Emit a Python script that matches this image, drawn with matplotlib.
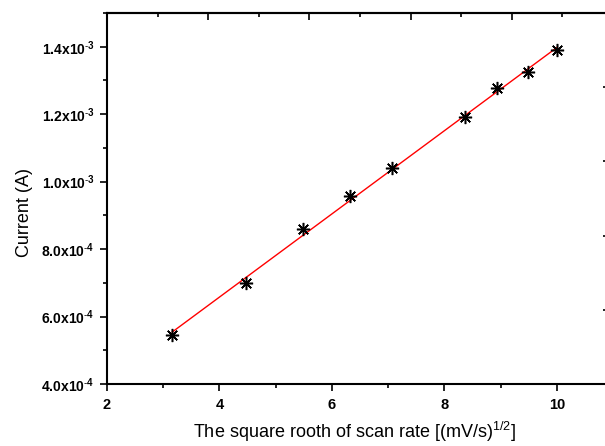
import numpy as np
import matplotlib
matplotlib.use("Agg")
import matplotlib.pyplot as plt
from matplotlib.ticker import FixedLocator, MultipleLocator, NullFormatter

plt.rcParams['font.family'] = ['Liberation Sans', 'DejaVu Sans']
plt.rcParams['mathtext.fontset'] = 'custom'
plt.rcParams['mathtext.rm'] = 'Liberation Sans'
plt.rcParams['mathtext.it'] = 'Liberation Sans'
plt.rcParams['mathtext.bf'] = 'Liberation Sans:bold'
plt.rcParams['mathtext.default'] = 'bf'

# data
sqrt_scan_rate = [3.16, 4.47, 5.48, 6.32, 7.07, 8.37, 8.94, 9.49, 10.0]
current = [5.46e-4, 7.00e-4, 8.59e-4, 9.57e-4, 1.039e-3, 1.192e-3, 1.277e-3, 1.326e-3, 1.389e-3]

x_ticks = [2, 4, 6, 8, 10]
x_tick_labels = ['2', '4', '6', '8', '10']
y_ticks = [4e-4, 6e-4, 8e-4, 1.0e-3, 1.2e-3, 1.4e-3]
y_mant = ['4.0', '6.0', '8.0', '1.0', '1.2', '1.4']
y_exp = ['4', '4', '4', '3', '3', '3']
top_major = [3.8, 5.6, 7.4, 9.2]
top_minor = [2.9, 4.7, 6.5, 8.3, 10.1]
right_ticks = [6.2e-4, 8.4e-4, 1.06e-3, 1.28e-3]

y_tick_labels = [r'%sx10$^{\text{-}%s}$' % (m, e) for m, e in zip(y_mant, y_exp)]

x = np.array(sqrt_scan_rate)
y = np.array(current)
slope, intercept = np.polyfit(x, y, 1)
xf = np.array([x.min(), x.max()])

fig = plt.figure(figsize=(6.05, 4.46), dpi=100)
ax = fig.add_axes([107/605, 1 - 384/446, (613 - 107)/605, (384 - 13)/446])

ax.plot(xf, slope * xf + intercept, color='red', lw=1.0, zorder=2)
ax.plot(x, y, linestyle='none', marker=(8, 2, 0), markersize=9.5, color='black',
        markeredgewidth=1.1, zorder=3)

ax.set_xlim(2, 11)
ax.set_ylim(4e-4, 1.5e-3)

ax.xaxis.set_major_locator(FixedLocator(x_ticks))
ax.set_xticklabels(x_tick_labels, fontweight='bold', fontsize=10.5)
ax.xaxis.set_minor_locator(MultipleLocator(1))
ax.yaxis.set_major_locator(FixedLocator(y_ticks))
ax.set_yticklabels(y_tick_labels, fontweight='bold', fontsize=10)
ax.yaxis.set_minor_locator(MultipleLocator(1e-4))

for s in ax.spines.values():
    s.set_linewidth(1.5)

ax.tick_params(which='major', direction='out', length=5, width=1.2,
               top=False, right=False)
ax.tick_params(axis='x', which='major', pad=5)
ax.tick_params(axis='y', which='major', pad=4)
ax.tick_params(which='minor', direction='out', length=3, width=1.2,
               top=False, right=False)

secx = ax.secondary_xaxis('top')
secx.xaxis.set_major_locator(FixedLocator(top_major))
secx.xaxis.set_minor_locator(FixedLocator(top_minor))
secx.xaxis.set_major_formatter(NullFormatter())
secx.tick_params(which='major', direction='in', length=5, width=1.2)
secx.tick_params(which='minor', direction='in', length=3, width=1.2)
secx.spines['top'].set_linewidth(1.5)

secy = ax.secondary_yaxis('right')
secy.yaxis.set_major_locator(FixedLocator(right_ticks))
secy.yaxis.set_major_formatter(NullFormatter())
secy.tick_params(which='major', direction='in', length=7, width=1.2)
secy.yaxis.set_minor_locator(FixedLocator([]))

ax.set_xlabel(r'The square rooth of scan rate [(mV/s)$^{\mathrm{1/2}}$]', fontsize=13)
ax.set_ylabel('Current (A)', fontsize=13)
ax.xaxis.set_label_coords((355 - 107) / 506, -0.098)
ax.yaxis.set_label_coords(-0.146, 0.462)

fig.savefig('out.png', dpi=100)
